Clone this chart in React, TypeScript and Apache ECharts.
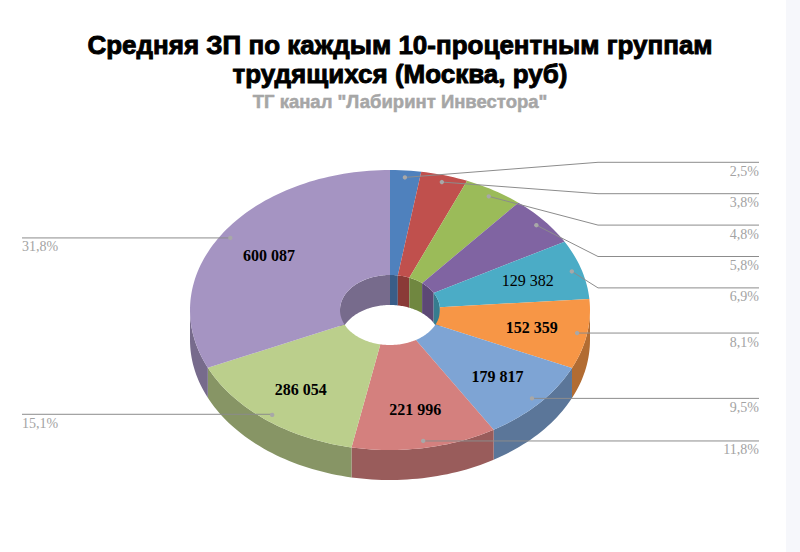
import React, { useEffect, useRef } from "react";
import * as echarts from "echarts";

// ---------- data ----------
const groups = ["1", "2", "3", "4", "5", "6", "7", "8", "9", "10"]; // 10-процентные группы
const salaries = [47200, 71750, 90600, 109450, 129382, 152359, 179817, 221996, 286054, 600087];
const titleLines = ["Средняя ЗП по каждым 10-процентным группам", "трудящихся (Москва, руб)"];
const subtitle = 'ТГ канал "Лабиринт Инвестора"';

// ---------- styles / layout ----------
const sliceColors = [
  "#4F81BD", "#C0504D", "#9BBB59", "#8064A2", "#4BACC6",
  "#F79646", "#7EA4D4", "#D4807E", "#BBCF8C", "#A594C2",
];
const valueLabelShown = [false, false, false, false, true, true, true, true, true, true];
const valueLabelBold = [true, true, true, true, false, true, true, true, true, true];

const CX = 390, CY = 310, RX = 200, K = 0.7, INNER = 0.25, DEPTH = 30;
const DOT_R = 0.95, VALUE_R = 0.72;
const RIGHT_STACK_TOP = 162.3, RIGHT_STACK_STEP = 31.4, RIGHT_STACK_COUNT = 5;
const ELBOW_X = 598, RIGHT_END_X = 759, LEFT_X = 22;
const TITLE_TOPS = [32, 61];

const total = salaries.reduce((a, b) => a + b, 0);
const startAngles: number[] = [];
const endAngles: number[] = [];
{
  let acc = 0;
  salaries.forEach((v) => {
    startAngles.push((acc / total) * Math.PI * 2);
    acc += v;
    endAngles.push((acc / total) * Math.PI * 2);
  });
}

function shade(hex: string, f: number) {
  const n = parseInt(hex.slice(1), 16);
  const r = Math.round(((n >> 16) & 255) * f);
  const g = Math.round(((n >> 8) & 255) * f);
  const b = Math.round((n & 255) * f);
  return `rgb(${r},${g},${b})`;
}
function pt(a: number, rho: number, dz = 0): number[] {
  return [CX + RX * rho * Math.sin(a), CY - RX * K * rho * Math.cos(a) + dz];
}
function arc(a0: number, a1: number, rho: number, dz: number) {
  const n = Math.max(2, Math.ceil(Math.abs(a1 - a0) / (Math.PI / 120)));
  const out: number[][] = [];
  for (let j = 0; j <= n; j++) out.push(pt(a0 + ((a1 - a0) * j) / n, rho, dz));
  return out;
}
function wall(a0: number, a1: number, rho: number) {
  return arc(a0, a1, rho, 0).concat(arc(a1, a0, rho, DEPTH));
}
const fmtValue = (v: number) => String(v).replace(/\B(?=(\d{3})+(?!\d))/g, " ");
const fmtPct = (v: number) => ((v / total) * 100).toFixed(1).replace(".", ",") + "%";

function renderItem(params: any) {
  const i = params.dataIndex;
  const a0 = startAngles[i];
  const a1 = endAngles[i];
  const color = sliceColors[i];
  const side = shade(color, 0.72);
  const inner = shade(color, 0.72);
  const children: any[] = [];

  // top face
  children.push({
    type: "polygon",
    z2: 10,
    shape: { points: arc(a0, a1, 1, 0).concat(arc(a1, a0, INNER, 0)) },
    style: { fill: color },
  });
  // outer wall (front half)
  const s = Math.max(a0, Math.PI / 2);
  const e = Math.min(a1, (3 * Math.PI) / 2);
  if (e > s) {
    children.push({ type: "polygon", z2: 1, shape: { points: wall(s, e, 1) }, style: { fill: side } });
  }
  // inner wall (back half of the hole)
  const ranges = [
    [0, Math.PI / 2],
    [(3 * Math.PI) / 2, Math.PI * 2],
  ];
  ranges.forEach(([r0, r1]) => {
    const s2 = Math.max(a0, r0);
    const e2 = Math.min(a1, r1);
    if (e2 > s2) {
      children.push({ type: "polygon", z2: 1, shape: { points: wall(s2, e2, INNER) }, style: { fill: inner } });
    }
  });

  const mid = (a0 + a1) / 2;
  // value label
  if (valueLabelShown[i]) {
    const p = pt(mid, VALUE_R);
    children.push({
      type: "text",
      z2: 30,
      style: {
        text: fmtValue(salaries[i]),
        x: p[0],
        y: p[1],
        fill: "#000",
        font: `${valueLabelBold[i] ? "bold " : ""}16px "Liberation Serif"`,
        align: "center",
        verticalAlign: "middle",
        textAlign: "center",
        textVerticalAlign: "middle",
      },
    });
  }

  // percent label + leader line
  const d = pt(mid, DOT_R);
  const isRight = Math.sin(mid) > 0;
  let linePts: number[][];
  let ly: number;
  let tx: number;
  let align: string;
  if (isRight) {
    if (i < RIGHT_STACK_COUNT) {
      ly = RIGHT_STACK_TOP + i * RIGHT_STACK_STEP;
      linePts = [d, [ELBOW_X, ly], [RIGHT_END_X, ly]];
    } else {
      ly = d[1];
      linePts = [d, [RIGHT_END_X, ly]];
    }
    tx = RIGHT_END_X;
    align = "right";
  } else {
    ly = d[1];
    linePts = [[LEFT_X, ly], d];
    tx = LEFT_X;
    align = "left";
  }
  children.push({
    type: "polyline",
    z2: 20,
    shape: { points: linePts },
    style: { stroke: "#8C8C8C", lineWidth: 1, fill: null },
  });
  children.push({
    type: "circle",
    z2: 21,
    shape: { cx: d[0], cy: d[1], r: 2.2 },
    style: { fill: "#A8A8A8" },
  });
  children.push({
    type: "text",
    z2: 30,
    style: {
      text: fmtPct(salaries[i]),
      x: tx,
      y: ly + 9,
      fill: "#A3A3A3",
      font: '14px "Liberation Serif"',
      align,
      verticalAlign: "middle",
      textAlign: align,
      textVerticalAlign: "middle",
    },
  });

  return { type: "group", children };
}

export default function App() {
  const ref = useRef<HTMLDivElement>(null);
  useEffect(() => {
    document.body.style.margin = "0";
    const chart = echarts.init(ref.current!, null, { renderer: "svg" });
    chart.setOption({
      animation: false,
      backgroundColor: "#FFFFFF",
      graphic: [
        { type: "rect", z: -10, shape: { x: 786, y: 0, width: 14, height: 552 }, style: { fill: "#F6F7FB" } },
        ...titleLines.map((line, k) => ({
          type: "text",
          left: "center",
          top: TITLE_TOPS[k],
          style: {
            text: line,
            fill: "#000",
            font: 'bold 26px "Liberation Sans"',
            textAlign: "center",
            stroke: "#000",
            lineWidth: 0.9,
          },
        })),
        {
          type: "text",
          left: "center",
          top: 92,
          style: {
            text: subtitle,
            fill: "#A6A6A6",
            font: 'bold 18.5px "Liberation Sans"',
            textAlign: "center",
            stroke: "#A6A6A6",
            lineWidth: 0.5,
          },
        },
      ],
      series: [
        {
          type: "custom",
          coordinateSystem: "none",
          silent: true,
          renderItem,
          data: salaries.map((v, i) => ({ name: groups[i], value: [i, v] })),
        },
      ],
    });
    return () => chart.dispose();
  }, []);
  return <div ref={ref} style={{ width: 800, height: 552 }} />;
}
